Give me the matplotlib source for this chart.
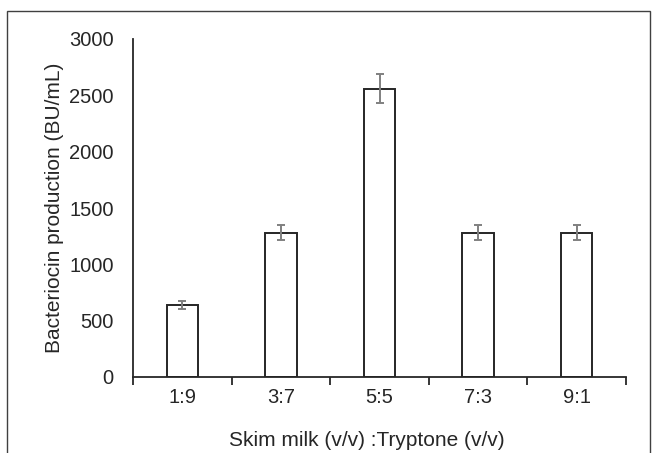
import numpy as np
import matplotlib.pyplot as plt
from matplotlib.patches import Rectangle

plt.rcParams['font.family'] = ['Liberation Sans', 'DejaVu Sans']

ratios = ['1:9', '3:7', '5:5', '7:3', '9:1']
production = [640, 1280, 2560, 1280, 1280]
errors = [37, 68, 130, 68, 68]

fig = plt.figure(figsize=(6.57, 4.53), dpi=100)
# axes box in pixels: x 133..626, y 39..377
ax = fig.add_axes([133 / 657, 1 - 377 / 453, 493 / 657, 338 / 453])

x = np.arange(len(ratios))
ax.bar(x, production, width=0.32, color='white', edgecolor='#262626', linewidth=1.4, zorder=2)
ax.errorbar(x, production, yerr=errors, fmt='none', ecolor='#808080', elinewidth=1.4,
            capsize=2.8, capthick=1.4, zorder=3)

ax.set_xlim(-0.5, len(ratios) - 0.5)
ax.set_ylim(0, 3000)
ax.set_yticks(np.arange(0, 3001, 500))
ax.set_xticks(x)
ax.set_xticklabels(ratios)
ax.set_xticks(np.arange(-0.5, len(ratios), 1), minor=True)
ax.tick_params(axis='x', which='major', length=0, pad=8, labelsize=14.5, colors='#262626')
ax.tick_params(axis='x', which='minor', length=6, width=1.3, color='#262626')
ax.tick_params(axis='y', length=0, pad=14, labelsize=14.5, colors='#262626')

for s in ['top', 'right']:
    ax.spines[s].set_visible(False)
for s in ['left', 'bottom']:
    ax.spines[s].set_color('#262626')
    ax.spines[s].set_linewidth(1.3)

ax.set_xlabel('Skim milk (v/v) :Tryptone (v/v)', fontsize=15, color='#262626')
ax.set_ylabel('Bacteriocin production (BU/mL)', fontsize=15, color='#262626')
ax.xaxis.set_label_coords(0.475, -0.16)
ax.yaxis.set_label_coords(-0.14, 0.5)

fig.patches.append(Rectangle((7 / 657, -0.1), 643 / 657, 1.1 - 11 / 453, transform=fig.transFigure,
                             fill=False, edgecolor='#404040', linewidth=1.0))

fig.savefig('out.png', dpi=100)
